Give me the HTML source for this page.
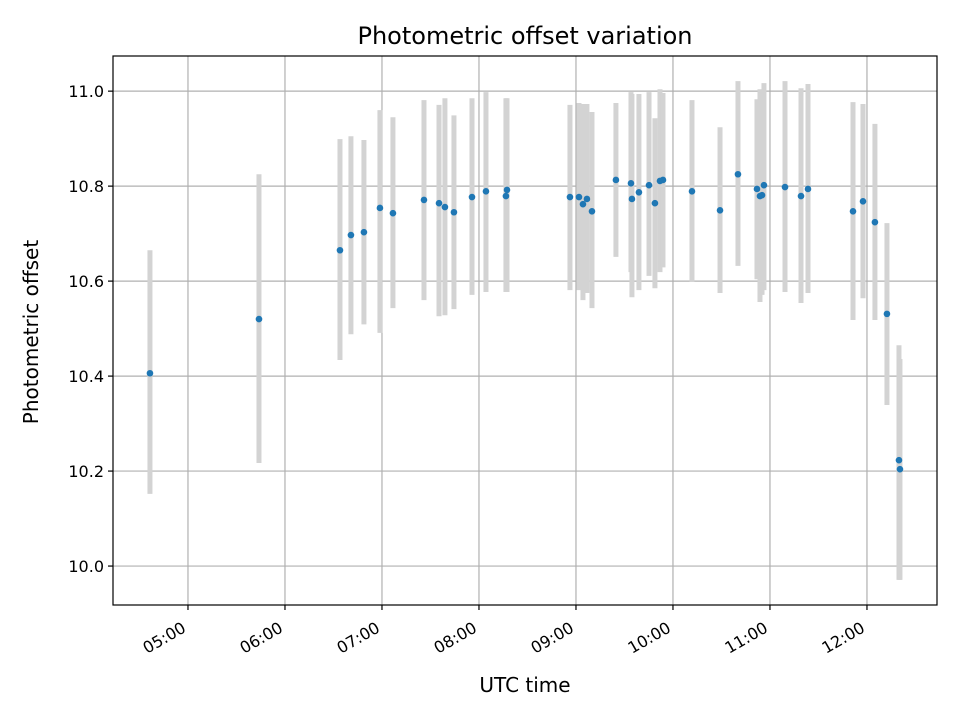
<!DOCTYPE html>
<html><head><meta charset="utf-8"><style>
html,body{margin:0;padding:0;background:#fff;}
svg{display:block;font-family:"DejaVu Sans","Liberation Sans",sans-serif;}
</style></head><body>
<svg id="chart" width="960" height="720" viewBox="0 0 960 720" xmlns="http://www.w3.org/2000/svg">
<rect width="960" height="720" fill="#fff"/>
<g id="grid"></g>
<g id="bars"></g>
<g id="dots"></g>
<rect x="113" y="56" width="824" height="549" fill="none" stroke="#000" stroke-width="1.2"/>
<g id="xticks"></g>
<g id="yticks"></g>
<text x="525" y="44" text-anchor="middle" font-size="24">Photometric offset variation</text>
<text x="525" y="692" text-anchor="middle" font-size="20">UTC time</text>
<text transform="translate(38,332) rotate(-90)" text-anchor="middle" font-size="20">Photometric offset</text>
</svg>
<script>
const times=[4.608,5.732,6.567,6.680,6.814,6.979,7.113,7.433,7.588,7.649,7.742,7.928,8.072,8.278,8.289,8.938,9.031,9.072,9.113,9.165,9.412,9.567,9.577,9.649,9.753,9.814,9.866,9.897,10.196,10.485,10.670,10.866,10.897,10.918,10.938,11.155,11.320,11.392,11.856,11.959,12.082,12.206,12.330,12.340];
const values=[10.406,10.520,10.665,10.697,10.703,10.754,10.743,10.771,10.764,10.756,10.745,10.777,10.789,10.779,10.792,10.777,10.777,10.762,10.773,10.747,10.813,10.806,10.773,10.787,10.802,10.764,10.811,10.813,10.789,10.749,10.825,10.794,10.779,10.781,10.802,10.798,10.779,10.794,10.747,10.768,10.724,10.531,10.223,10.204];
const upper=[10.665,10.825,10.899,10.905,10.897,10.960,10.945,10.981,10.971,10.985,10.949,10.985,10.998,10.985,10.985,10.971,10.975,10.973,10.973,10.956,10.975,10.998,10.994,10.994,10.998,10.943,11.004,10.996,10.981,10.924,11.021,10.983,11.004,11.000,11.017,11.021,11.006,11.015,10.977,10.973,10.931,10.722,10.465,10.436];
const lower=[10.152,10.217,10.434,10.488,10.509,10.491,10.543,10.560,10.526,10.528,10.541,10.571,10.577,10.577,10.577,10.581,10.581,10.560,10.575,10.543,10.651,10.619,10.566,10.581,10.611,10.585,10.619,10.629,10.598,10.575,10.632,10.604,10.556,10.571,10.581,10.577,10.554,10.575,10.518,10.564,10.518,10.339,9.971,9.971];
const xTickHours=[5,6,7,8,9,10,11,12];
const xTickLabels=["05:00","06:00","07:00","08:00","09:00","10:00","11:00","12:00"];
const yTickValues=[10.0,10.2,10.4,10.6,10.8,11.0];
const yTickLabels=["10.0","10.2","10.4","10.6","10.8","11.0"];

const L=113,R=937,T=56,B=605,X0=4.227,X1=12.722,Y0=9.918,Y1=11.074;
const sx=h=>L+(h-X0)/(X1-X0)*(R-L);
const sy=v=>B-(v-Y0)/(Y1-Y0)*(B-T);
const NS="http://www.w3.org/2000/svg";
function mk(tag,parent,attrs){const e=document.createElementNS(NS,tag);for(const k in attrs)e.setAttribute(k,attrs[k]);parent.appendChild(e);return e;}
const grid=document.getElementById('grid'),bars=document.getElementById('bars'),dots=document.getElementById('dots');
const xt=document.getElementById('xticks'),yt=document.getElementById('yticks');
xTickHours.forEach((h,i)=>{
  const x=sx(h);
  const g=mk('line',grid,{x1:x,x2:x,y1:T,y2:B,stroke:'#b0b0b0','stroke-width':1.2});
  
  
  const t=mk('line',xt,{x1:x,x2:x,y1:B,y2:B+5,stroke:'#000','stroke-width':1.2});
  
  
  const lx=x-1,ly=B+26;
  const lb=mk('text',xt,{x:lx,y:ly,'text-anchor':'end','font-size':16,transform:`rotate(-30 ${lx} ${ly})`});
  lb.textContent=xTickLabels[i];
  
  
});
yTickValues.forEach((v,i)=>{
  const y=sy(v);
  const g=mk('line',grid,{x1:L,x2:R,y1:y,y2:y,stroke:'#b0b0b0','stroke-width':1.2});
  
  
  const t=mk('line',yt,{x1:L-5,x2:L,y1:y,y2:y,stroke:'#000','stroke-width':1.2});
  
  
  const lb=mk('text',yt,{x:L-9,y:y+6,'text-anchor':'end','font-size':16});
  lb.textContent=yTickLabels[i];
  
  
});
times.forEach((h,i)=>{
  const x=sx(h);
  const b=mk('line',bars,{x1:x,x2:x,y1:sy(upper[i]),y2:sy(lower[i]),stroke:'#d3d3d3','stroke-width':5});
  
  
});
times.forEach((h,i)=>{
  const c=mk('circle',dots,{cx:sx(h),cy:sy(values[i]),r:3.3,fill:'#1f77b4'});
  
  
});
</script>
</body></html>
